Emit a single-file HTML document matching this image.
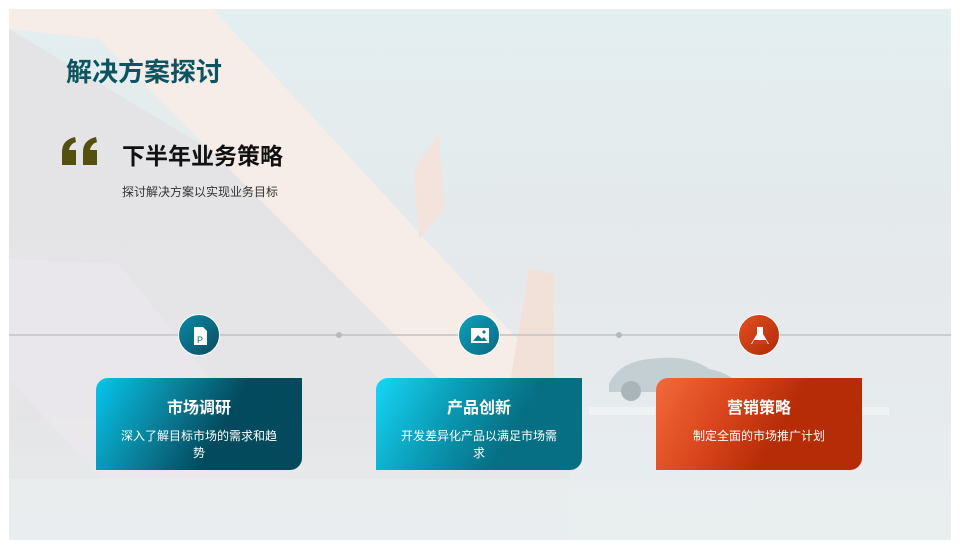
<!DOCTYPE html>
<html><head><meta charset="utf-8"><style>
body{margin:0;width:960px;height:548px;background:#fff;position:relative;overflow:hidden;font-family:"Liberation Sans","Noto Sans CJK SC",sans-serif}
.slide{position:absolute;left:9px;top:9px;width:942px;height:531px;background:#e6e9eb;overflow:hidden}
.abs{position:absolute}
.card{position:absolute;top:369px;width:206px;height:92px;border-radius:12px 0 12px 0;color:#fff;text-align:center}
.card h3{margin:16px 0 0;font-size:16px;font-weight:bold}
.card p{margin:10px 20px 0;font-size:12px;line-height:17px}
.ic{position:absolute;top:305px;width:42px;height:42px;border-radius:50%;border:1px solid #fff;box-sizing:border-box}
</style></head><body>
<div class="slide">
<svg class="abs" style="left:0;top:0" width="942" height="531">
<defs>
<linearGradient id="bg" x1="0" y1="0" x2="0" y2="1"><stop offset="0" stop-color="#e3eef0"/><stop offset="0.5" stop-color="#e5e9eb"/><stop offset="1" stop-color="#e8edef"/></linearGradient>
<linearGradient id="gr" x1="0" y1="0" x2="0" y2="1"><stop offset="0" stop-color="#e4e3e5"/><stop offset="0.75" stop-color="#e5e5e7"/><stop offset="1" stop-color="#e8ecee"/></linearGradient>
</defs>
<rect width="942" height="531" fill="url(#bg)"/>
<polygon points="0,20 0,531 560,531 560,380 300,200" fill="url(#gr)"/>
<polygon points="0,0 204,0 545,370 440,380 90,30 0,20" fill="#f6ece8"/>
<polygon points="0,250 110,255 330,531 150,531 0,370" fill="#ebe8ec" opacity="0.7"/>
<polygon points="405,160 430,125 435,200 410,230" fill="#f3e3dc"/>
<polygon points="520,260 545,265 545,380 500,380" fill="#f1e1d8"/>
<rect x="0" y="470" width="942" height="61" fill="#e9eef0" opacity="0.7"/>
<path d="M600,375 q10,-22 40,-25 q40,-5 60,10 q25,5 30,18 l0,5 l-130,0z" fill="#c4cfd3"/>
<circle cx="622" cy="382" r="10" fill="#a9b5b9"/>
<rect x="580" y="398" width="300" height="8" fill="#eff2f3"/>
<line x1="0" y1="326" x2="942" y2="326" stroke="#c2c2c4" stroke-width="1.5"/>
<circle cx="330" cy="326" r="3" fill="#b8b8ba"/>
<circle cx="610" cy="326" r="3" fill="#b8b8ba"/>
</svg>
<div class="abs" style="left:57px;top:43px;font-size:26px;font-weight:bold;color:#0d5460">解决方案探讨</div>
<svg class="abs" style="left:50px;top:128px" width="42" height="30"><path d="M3,28 V15 Q3,3 16,0 L17,5 Q11,7 10,13 H17 V28Z M24,28 V15 Q24,3 37,0 L38,5 Q32,7 31,13 H38 V28Z" fill="#545010"/></svg>
<div class="abs" style="left:113px;top:128px;font-size:23px;font-weight:bold;color:#111">下半年业务策略</div>
<div class="abs" style="left:113px;top:174px;font-size:12px;color:#333">探讨解决方案以实现业务目标</div>

<div class="ic" style="left:169px;background:linear-gradient(135deg,#0a8aa8,#0b4b5e)"><svg width="42" height="42"><path d="M15,12 h9 l4,4 v14 h-13z" fill="#fff"/><text x="18" y="28" font-size="9" fill="#0b6a80" font-family="Liberation Sans">P</text></svg></div>
<div class="ic" style="left:449px;background:linear-gradient(135deg,#0fa0bd,#0a6a80)"><svg width="42" height="42"><rect x="12" y="13" width="18" height="15" fill="#fff"/><path d="M14,26 l5,-6 4,4 2,-2 3,4z" fill="#0a7890"/><circle cx="25" cy="17" r="1.6" fill="#0a7890"/></svg></div>
<div class="ic" style="left:729px;background:linear-gradient(135deg,#e2501f,#b02a08)"><svg width="42" height="42"><path d="M18,12 h6 v7 l6,10 h-18 l6,-10z" fill="#fff"/><path d="M15,25 h12 l2,4 h-16z" fill="#c8401a"/></svg></div>

<div class="card" style="left:87px;background:linear-gradient(120deg,#05c6ec 0%,#0a7d96 35%,#034a5e 60%,#04495c 100%)"><h3>市场调研</h3><p>深入了解目标市场的需求和趋势</p></div>
<div class="card" style="left:367px;background:linear-gradient(120deg,#16d6f6 0%,#0a9bb5 35%,#066f84 65%,#066f84 100%)"><h3>产品创新</h3><p>开发差异化产品以满足市场需求</p></div>
<div class="card" style="left:647px;background:linear-gradient(120deg,#f26a3a 0%,#d8431b 35%,#b52c07 60%,#b52c07 100%)"><h3>营销策略</h3><p>制定全面的市场推广计划</p></div>
</div>
</body></html>
